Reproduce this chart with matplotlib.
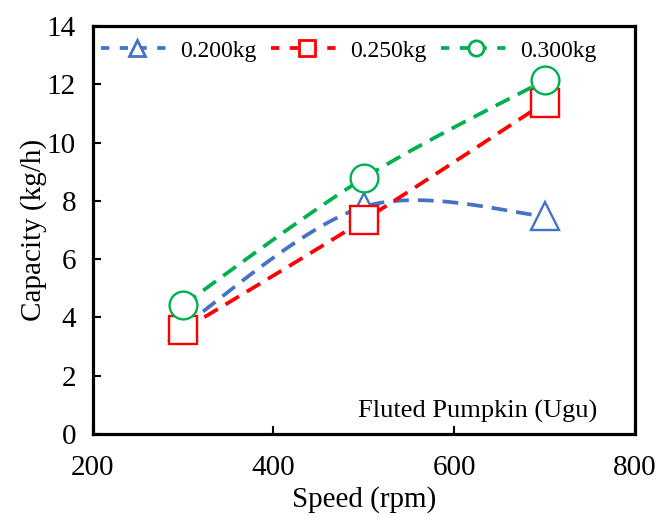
import matplotlib
matplotlib.use("Agg")
import matplotlib.pyplot as plt
import numpy as np

speed = [300, 500, 700]
cap_200 = [3.7, 7.8, 7.48]
cap_250 = [3.57, 7.34, 11.36]
cap_300 = [4.43, 8.78, 12.13]
labels = ["0.200kg", "0.250kg", "0.300kg"]
xticks = [200, 400, 600, 800]
yticks = [0, 2, 4, 6, 8, 10, 12, 14]

plt.rcParams['font.family'] = ['Liberation Serif', 'DejaVu Serif']


def smooth(x, y, n=40):
    # excel style smoothed line (catmull-rom bezier through the points)
    x = np.asarray(x, float)
    y = np.asarray(y, float)
    px = np.concatenate([[x[0]], x, [x[-1]]])
    py = np.concatenate([[y[0]], y, [y[-1]]])
    xs, ys = [], []
    t = np.linspace(0, 1, n)
    for i in range(1, len(x)):
        p0 = np.array([px[i], py[i]])
        p3 = np.array([px[i + 1], py[i + 1]])
        c1 = p0 + (p3 - np.array([px[i - 1], py[i - 1]])) / 6
        c2 = p3 - (np.array([px[i + 2], py[i + 2]]) - p0) / 6
        b = ((1 - t) ** 3)[:, None] * p0 + (3 * (1 - t) ** 2 * t)[:, None] * c1 \
            + (3 * (1 - t) * t ** 2)[:, None] * c2 + (t ** 3)[:, None] * p3
        xs.extend(b[:, 0])
        ys.extend(b[:, 1])
    return xs, ys


fig = plt.figure(figsize=(6.67, 5.18), dpi=100)
ax = fig.add_axes([0.139, 0.162, 0.813, 0.788])

series = [(cap_200, "#4472C4", "^"), (cap_250, "#FF0000", "s"), (cap_300, "#00B050", "o")]
dash = (4.2, 2.4)
for (vals, col, mk), lab in zip(series, labels):
    sx, sy = smooth(speed, vals)
    ax.plot(sx, sy, color=col, lw=2.7, dashes=dash)
    ax.plot(speed, vals, ls="none", marker=mk, ms=20, mfc="white", mec=col, mew=1.7)
    ax.plot([], [], color=col, lw=2.7, dashes=(2.2, 2.8), marker=mk, ms=11, mfc="white",
            mec=col, mew=2, label=lab)

ax.set_xlim(200, 800)
ax.set_ylim(0, 14)
ax.set_xticks(xticks)
ax.set_yticks(yticks)
ax.tick_params(direction="in", length=6, width=1.5, labelsize=21)
ax.tick_params(axis="x", pad=15)
ax.tick_params(axis="y", pad=12)
for s in ax.spines.values():
    s.set_linewidth(2.3)
ax.set_xlabel("Speed (rpm)", fontsize=21, labelpad=4)
ax.set_ylabel("Capacity (kg/h)", fontsize=21, labelpad=0)

ax.legend(loc="upper left", ncol=3, frameon=False, fontsize=17, handlelength=3.0,
          columnspacing=0.6, handletextpad=0.35, borderaxespad=0.2,
          bbox_to_anchor=(-0.01, 1.0))
ax.text(0.93, 0.055, "Fluted Pumpkin (Ugu)", transform=ax.transAxes, ha="right",
        va="center", fontsize=19)

fig.savefig("out.png", dpi=100)
